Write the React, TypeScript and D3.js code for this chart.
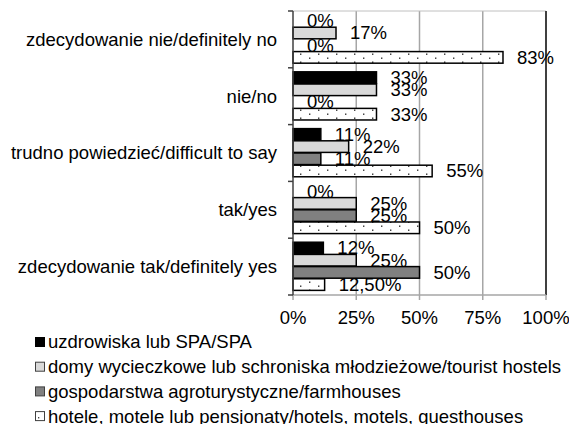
import React from "react";
import * as d3 from "d3";

const categories = [
  "zdecydowanie nie/definitely no",
  "nie/no",
  "trudno powiedzieć/difficult to say",
  "tak/yes",
  "zdecydowanie tak/definitely yes",
];

const seriesNames = [
  "uzdrowiska lub SPA/SPA",
  "domy wycieczkowe lub schroniska młodzieżowe/tourist hostels",
  "gospodarstwa agroturystyczne/farmhouses",
  "hotele, motele lub pensjonaty/hotels, motels, guesthouses",
];

const spaValues = [0, 33, 11, 0, 12];
const hostelValues = [17, 33, 22, 25, 25];
const farmValues = [0, 0, 11, 25, 50];
const hotelValues = [83, 33, 55, 50, 12.5];

const xTicks = [0, 25, 50, 75, 100];

const seriesValues = [spaValues, hostelValues, farmValues, hotelValues];
const seriesFills = ["#000000", "#d9d9d9", "#808080", "url(#dots)"];

const W = 569;
const H = 424;
const FONT = "'Liberation Sans', Arial, sans-serif";
const FS = 18.5;

function fmt(v: number) {
  return Number.isInteger(v) ? `${v}%` : `${v.toFixed(2).replace(".", ",")}%`;
}

export default function App() {
  const top = 11;
  const bottom = 295;
  const x = d3.scaleLinear().domain([0, 100]).range([293, 546]);
  const y = d3.scaleBand<string>().domain(categories).range([top, bottom]).padding(0);
  const inner = d3
    .scaleBand<number>()
    .domain(d3.range(seriesNames.length))
    .range([0, y.bandwidth()])
    .paddingInner(0)
    .paddingOuter(0.33);
  const barH = inner.bandwidth() - 0.6;

  return (
    <svg
      width={W}
      height={H}
      style={{ position: "absolute", left: 0, top: 0, background: "#fff" }}
      fontFamily={FONT}
    >
      <defs>
        <pattern id="dots" width={18} height={8} patternUnits="userSpaceOnUse">
          <rect width={18} height={8} fill="#fff" />
          <rect x={3} y={1.5} width={1.4} height={1.4} fill="#333" />
          <rect x={12} y={5.5} width={1.4} height={1.4} fill="#333" />
        </pattern>
      </defs>
      {/* gridlines */}
      {xTicks.slice(1, 4).map((t) => (
        <line key={t} x1={x(t)} x2={x(t)} y1={top} y2={bottom} stroke="#a6a6a6" strokeWidth={1.5} />
      ))}
      <line x1={x(0)} x2={x(100)} y1={top} y2={top} stroke="#c0c0c0" strokeWidth={1} />
      <line x1={x(100)} x2={x(100)} y1={top} y2={bottom} stroke="#404040" strokeWidth={2} />
      {/* bars */}
      {seriesValues.map((vals, si) =>
        categories.map((c, ci) => {
          const v = vals[ci];
          const by = (y(c) as number) + (inner(si) as number);
          return (
            <g key={`${si}-${ci}`}>
              {v > 0 && (
                <rect
                  x={x(0)}
                  y={by}
                  width={x(v) - x(0)}
                  height={barH}
                  fill={seriesFills[si]}
                  stroke="#000"
                  strokeWidth={1.5}
                />
              )}
              <text x={x(v) + 14} y={by + barH / 2} dy="0.35em" fontSize={FS} fill="#000">
                {fmt(v)}
              </text>
            </g>
          );
        })
      )}
      {/* x axis */}
      <line x1={x(0)} x2={x(100)} y1={bottom} y2={bottom} stroke="#a6a6a6" strokeWidth={1.5} />
      {xTicks.map((t) => (
        <g key={t}>
          <line x1={x(t)} x2={x(t)} y1={bottom} y2={bottom + 5} stroke="#a6a6a6" strokeWidth={1.5} />
          <text x={x(t)} y={318} dy="0.35em" textAnchor="middle" fontSize={FS} fill="#000">
            {`${t}%`}
          </text>
        </g>
      ))}
      {/* y axis */}
      <line x1={x(0)} x2={x(0)} y1={top} y2={bottom} stroke="#404040" strokeWidth={1.5} />
      {[...categories.map((c) => y(c) as number), bottom].map((ty, i) => (
        <line key={i} x1={x(0) - 5} x2={x(0)} y1={ty} y2={ty} stroke="#404040" strokeWidth={1.5} />
      ))}
      {categories.map((c) => (
        <text
          key={c}
          x={277}
          y={(y(c) as number) + y.bandwidth() / 2}
          dy="0.35em"
          textAnchor="end"
          fontSize={FS}
          fill="#000"
        >
          {c}
        </text>
      ))}
      {/* legend */}
      {seriesNames.map((s, i) => {
        const cy = 342 + i * 24.7;
        return (
          <g key={s}>
            <rect
              x={35.5}
              y={cy - 4.5}
              width={9}
              height={9}
              fill={i === 3 ? "#fff" : seriesFills[i]}
              stroke={i === 0 ? "#000" : "#404040"}
              strokeWidth={1}
            />
            {i === 3 && <rect x={38} y={cy + 1} width={1.3} height={1.3} fill="#333" />}
            <text x={48} y={cy} dy="0.35em" fontSize={FS} fill="#000">
              {s}
            </text>
          </g>
        );
      })}
    </svg>
  );
}
